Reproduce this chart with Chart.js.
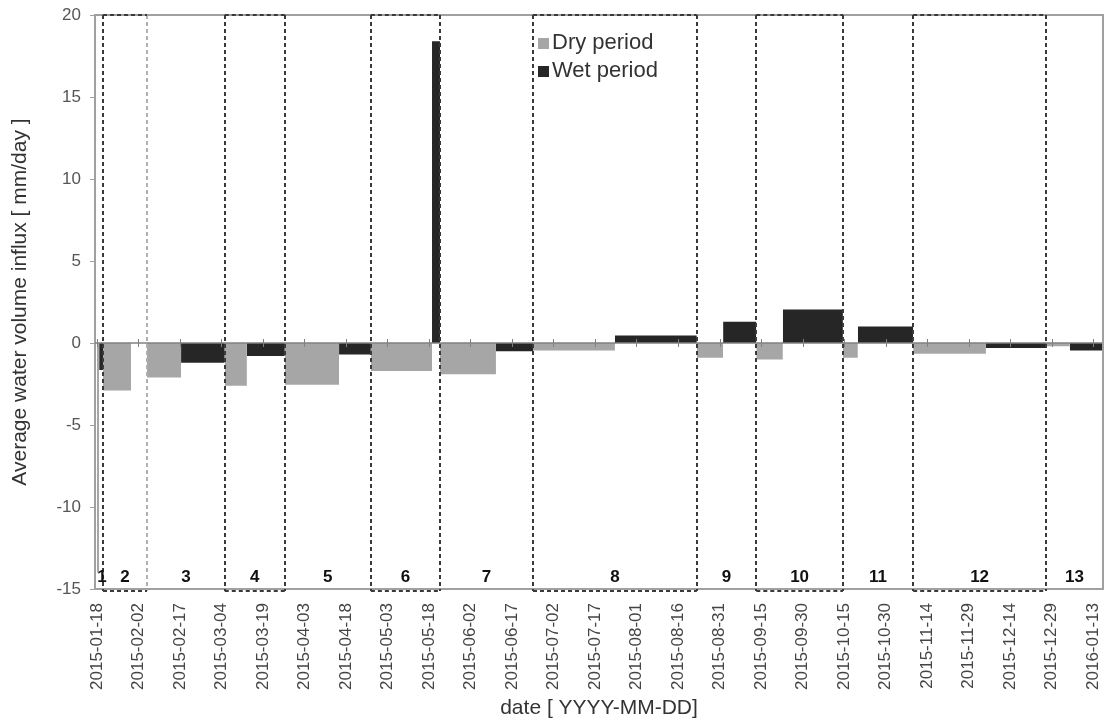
<!DOCTYPE html>
<html>
<head>
<meta charset="utf-8">
<script src="https://cdn.jsdelivr.net/npm/chart.js@4.4.1/dist/chart.umd.min.js"></script>
<style>
  body { margin: 0; background: #fff; }
  #wrap { width: 1105px; height: 727px; }
</style>
</head>
<body>
<div id="wrap"><canvas id="influxChart"></canvas></div>
<script>
// days are counted from the first tick date
const startDate = '2015-01-18';
const tickLabels = [
    '2015-01-18', '2015-02-02', '2015-02-17', '2015-03-04', '2015-03-19',
    '2015-04-03', '2015-04-18', '2015-05-03', '2015-05-18', '2015-06-02',
    '2015-06-17', '2015-07-02', '2015-07-17', '2015-08-01', '2015-08-16',
    '2015-08-31', '2015-09-15', '2015-09-30', '2015-10-15', '2015-10-30',
    '2015-11-14', '2015-11-29', '2015-12-14', '2015-12-29', '2016-01-13'
];
const periodLabels = ['1', '2', '3', '4', '5', '6', '7', '8', '9', '10', '11', '12', '13'];
const periodStart = [0, 2.2, 18.1, 46.2, 67.9, 99.0, 124.0, 157.6, 216.8, 238.3, 269.6, 295.0, 343.0];
const periodSplit = [0.8, 12.3, 30.4, 54.2, 87.5, 121.1, 144.2, 187.2, 226.3, 247.9, 275.0, 321.3, 351.6];
const periodEnd = [2.2, 18.1, 46.2, 67.9, 99.0, 124.0, 157.6, 216.8, 238.3, 269.6, 295.0, 343.0, 363.6];
const dryValues = [-14, -2.9, -2.1, -2.6, -2.55, -1.7, -1.9, -0.45, -0.9, -1.0, -0.9, -0.65, -0.2];
const wetValues = [-1.65, null, -1.2, -0.8, -0.7, 18.4, -0.5, 0.45, 1.3, 2.05, 1.0, -0.3, -0.45];
const boxedPeriods = [2, 4, 6, 8, 10, 12];

const FONT = '"Liberation Sans", Arial, sans-serif';
const DRY_COLOR = '#a6a6a6';
const WET_COLOR = '#262626';

function dayOf(dateStr) {
    return (Date.parse(dateStr) - Date.parse(startDate)) / 86400000;
}

// each bar becomes a flat segment filled down to zero, separated by a gap
function barPoints(from, to, values) {
    const pts = [];
    values.forEach((v, i) => {
        if (v === null) return;
        pts.push({ x: from[i], y: v }, { x: to[i], y: v }, { x: to[i], y: null });
    });
    return pts;
}

const overlayPlugin = {
    id: 'overlay',
    afterDatasetsDraw(chart) {
        const { ctx, chartArea: area, scales: { x, y } } = chart;
        const y0 = y.getPixelForValue(0);
        ctx.save();

        // zero line with its tick marks
        ctx.strokeStyle = '#808080';
        ctx.lineWidth = 1.5;
        ctx.beginPath();
        ctx.moveTo(area.left, y0);
        ctx.lineTo(area.right, y0);
        ctx.stroke();
        ctx.lineWidth = 1;
        tickLabels.forEach(label => {
            const px = Math.round(x.getPixelForValue(dayOf(label))) + 0.5;
            ctx.beginPath();
            ctx.moveTo(px, y0 - 4);
            ctx.lineTo(px, y0 + 4);
            ctx.stroke();
        });

        // top and right frame
        ctx.strokeStyle = '#a0a0a0';
        ctx.lineWidth = 2;
        ctx.beginPath();
        ctx.moveTo(area.left, area.top);
        ctx.lineTo(area.right, area.top);
        ctx.lineTo(area.right, area.bottom);
        ctx.stroke();

        // dashed period boundaries
        ctx.setLineDash([4, 3]);
        ctx.lineWidth = 2;
        periodStart.forEach((d, i) => {
            if (i === 0) return;
            const px = Math.round(x.getPixelForValue(d));
            ctx.strokeStyle = i === 2 ? '#b0b0b0' : '#3a3a3a';
            ctx.beginPath();
            ctx.moveTo(px, area.top);
            ctx.lineTo(px, area.bottom + 2);
            ctx.stroke();
        });
        ctx.strokeStyle = '#3a3a3a';
        boxedPeriods.forEach(p => {
            const x1 = x.getPixelForValue(periodStart[p - 1]);
            const x2 = x.getPixelForValue(periodEnd[p - 1]);
            [area.top, area.bottom + 2].forEach(py => {
                ctx.beginPath();
                ctx.moveTo(x1, py);
                ctx.lineTo(x2, py);
                ctx.stroke();
            });
        });
        ctx.setLineDash([]);

        // period numbers
        ctx.fillStyle = '#111';
        ctx.font = 'bold 17px ' + FONT;
        ctx.textAlign = 'center';
        ctx.textBaseline = 'middle';
        periodLabels.forEach((label, i) => {
            const cx = (x.getPixelForValue(periodStart[i]) + x.getPixelForValue(periodEnd[i])) / 2;
            ctx.fillText(label, i === 0 ? cx + 2 : cx, area.bottom - 12);
        });

        // legend
        ctx.font = '22px ' + FONT;
        ctx.textAlign = 'left';
        [['Dry period', DRY_COLOR], ['Wet period', WET_COLOR]].forEach(([text, color], i) => {
            const ly = 43 + i * 28;
            ctx.fillStyle = color;
            ctx.fillRect(538, ly - 5, 11, 11);
            ctx.fillStyle = '#333';
            ctx.fillText(text, 552, ly);
        });

        ctx.restore();
    }
};

const chart = new Chart(document.getElementById('influxChart'), {
    type: 'line',
    data: {
        datasets: [{
            label: 'Dry period',
            data: barPoints(periodStart, periodSplit, dryValues),
            backgroundColor: DRY_COLOR,
            borderWidth: 0,
            pointRadius: 0,
            fill: 'origin'
        }, {
            label: 'Wet period',
            data: barPoints(periodSplit, periodEnd, wetValues),
            backgroundColor: WET_COLOR,
            borderWidth: 0,
            pointRadius: 0,
            fill: 'origin'
        }]
    },
    options: {
        responsive: true,
        maintainAspectRatio: false,
        animation: false,
        layout: { padding: { top: 15, right: 2, left: 0, bottom: 0 } },
        plugins: {
            legend: { display: false },
            tooltip: { enabled: false }
        },
        scales: {
            x: {
                type: 'linear',
                min: -0.7,
                max: 363.6,
                afterBuildTicks: scale => {
                    scale.ticks = tickLabels.map(label => ({ value: dayOf(label) }));
                },
                afterFit: scale => {
                    scale.height = 138;
                    scale.paddingLeft = 0;
                    scale.paddingRight = 0;
                },
                grid: { display: false },
                border: { color: '#a0a0a0', width: 2 },
                ticks: {
                    autoSkip: false,
                    maxRotation: 90,
                    minRotation: 90,
                    padding: 6,
                    color: '#444',
                    font: { family: FONT, size: 17 },
                    callback: (value, index) => tickLabels[index]
                },
                title: {
                    display: true,
                    text: 'date [ YYYY-MM-DD]',
                    color: '#333',
                    font: { family: FONT, size: 21 },
                    padding: { top: 0, bottom: 6 }
                }
            },
            y: {
                min: -15,
                max: 20,
                afterFit: scale => {
                    scale.width = 95;
                    scale.paddingTop = 0;
                    scale.paddingBottom = 0;
                },
                grid: { drawOnChartArea: false, tickLength: 5, color: '#a0a0a0' },
                border: { color: '#a0a0a0', width: 2 },
                ticks: {
                    stepSize: 5,
                    padding: 9,
                    color: '#555',
                    font: { family: FONT, size: 17 }
                },
                title: {
                    display: true,
                    text: 'Average water volume influx [ mm/day ]',
                    color: '#333',
                    font: { family: FONT, size: 21 },
                    padding: { top: 8, bottom: 0 }
                }
            }
        }
    },
    plugins: [overlayPlugin]
});
</script>
</body>
</html>
